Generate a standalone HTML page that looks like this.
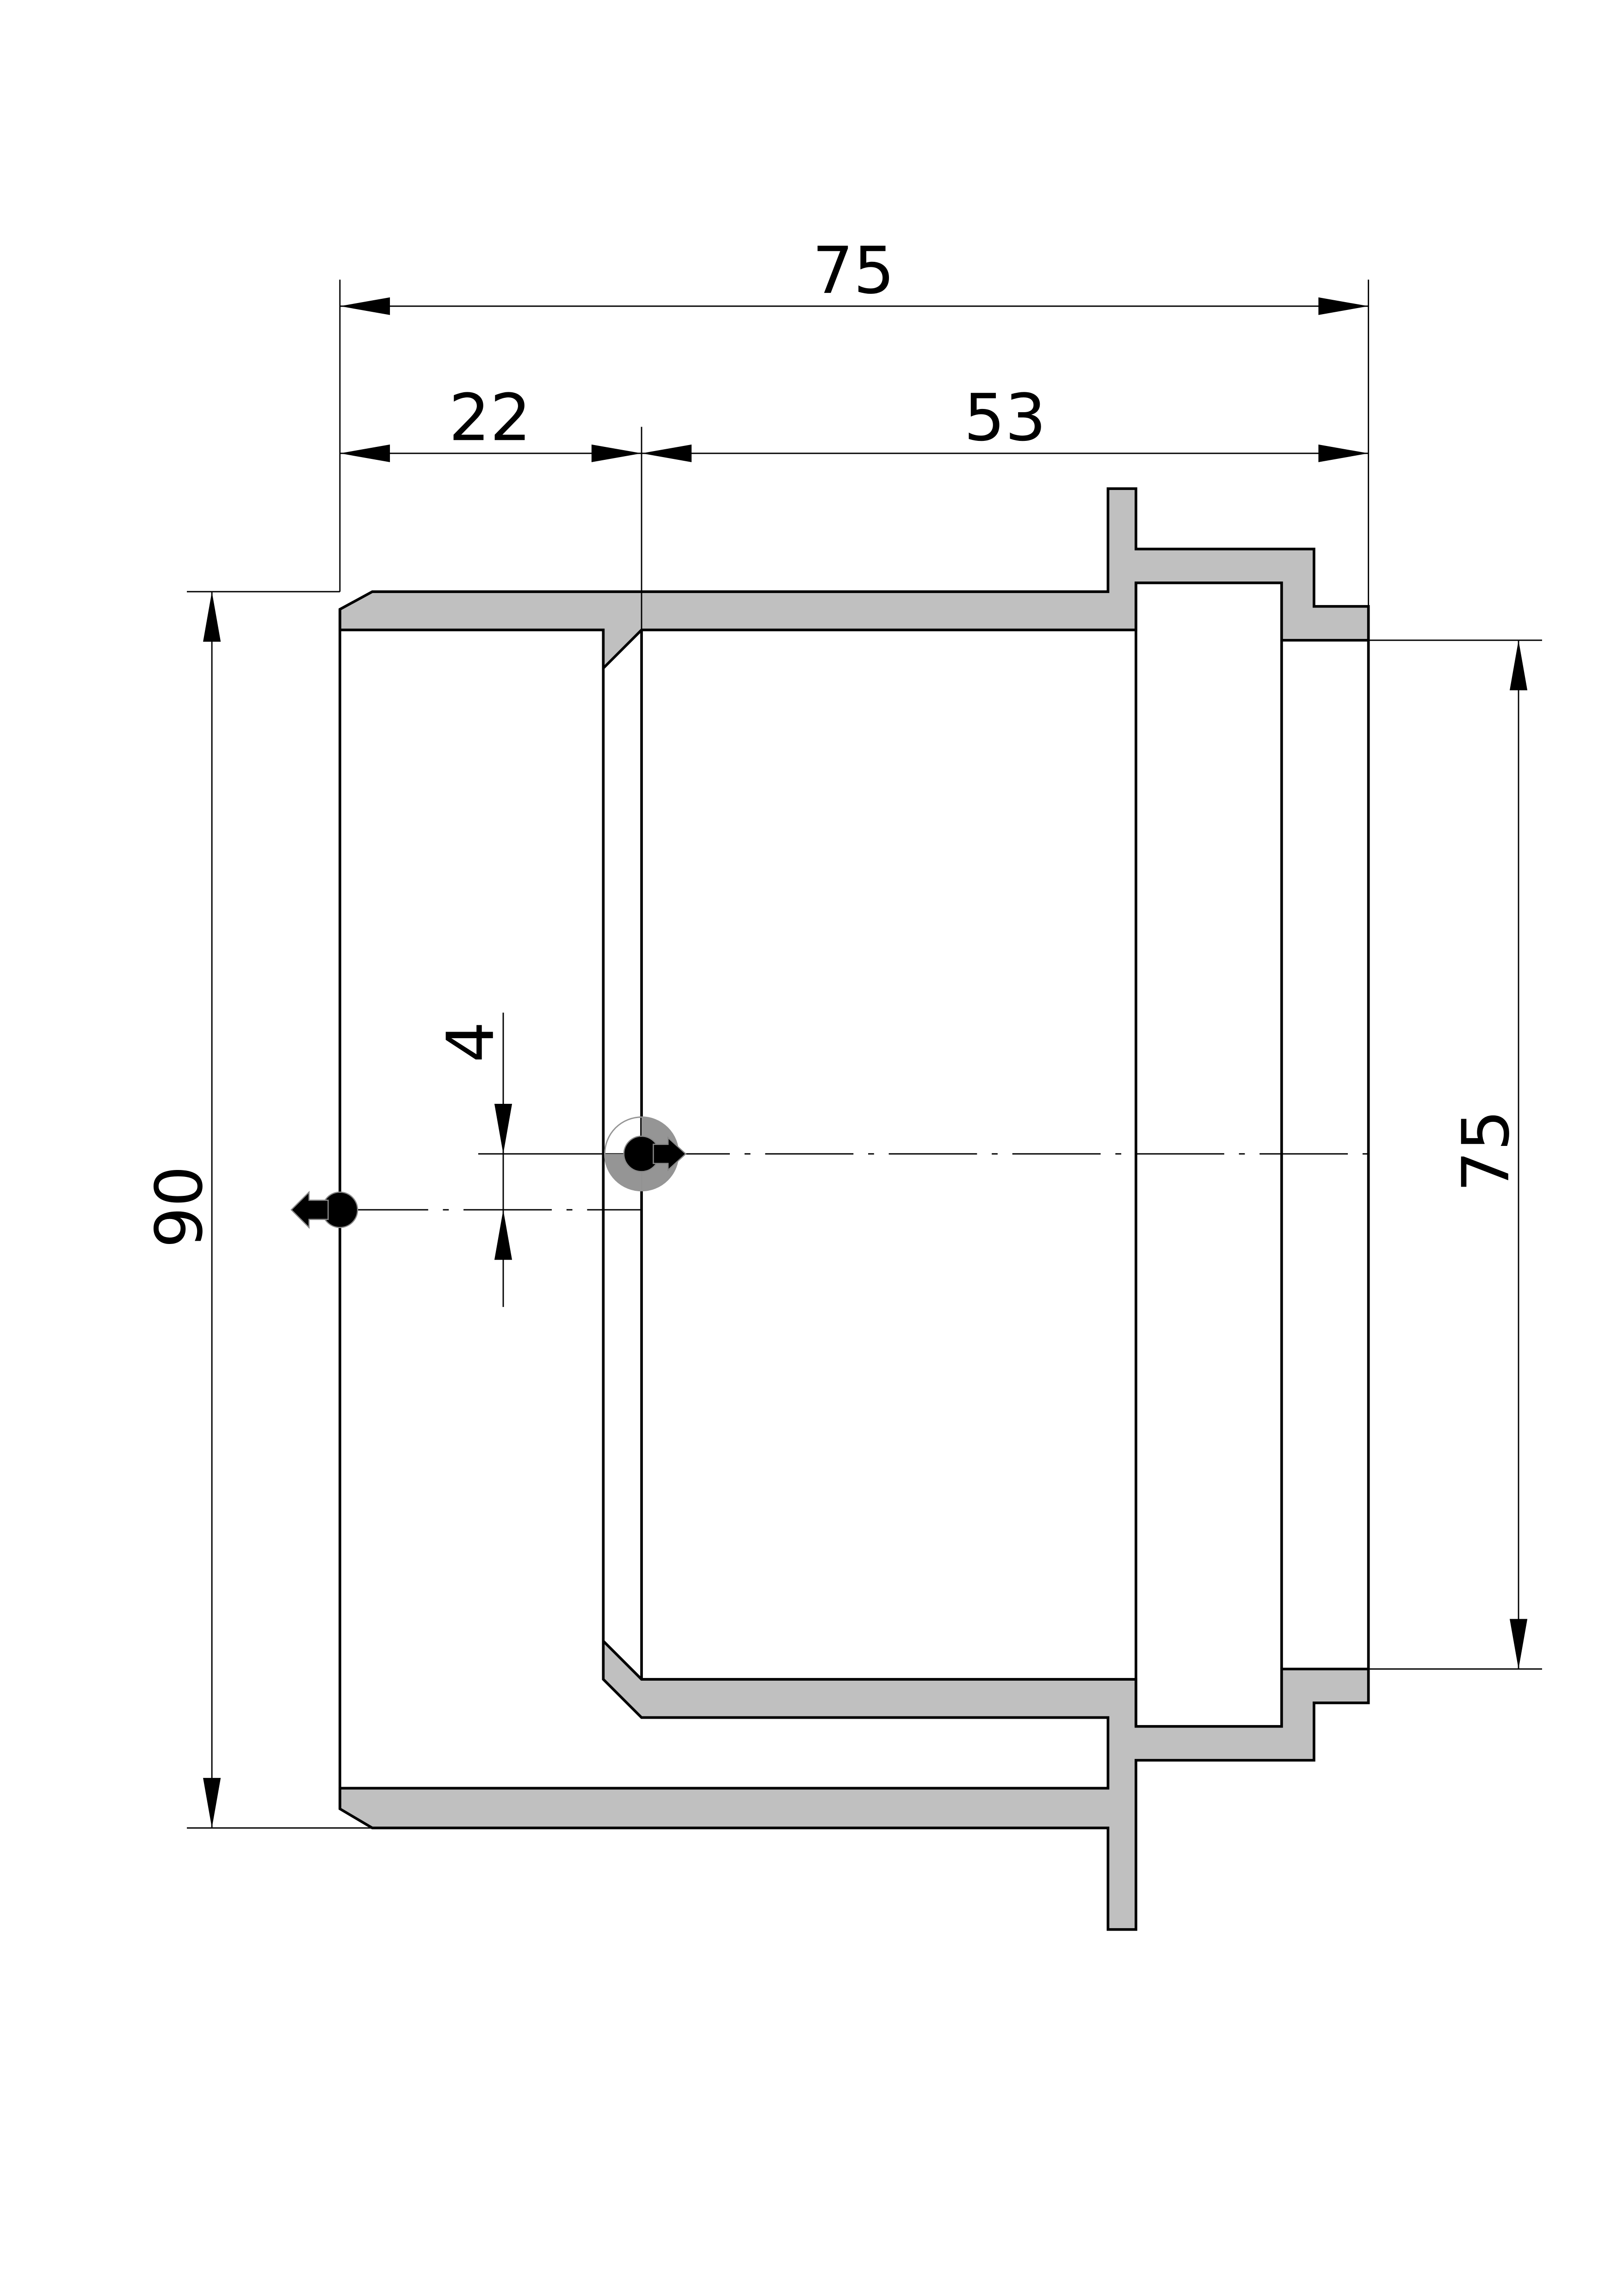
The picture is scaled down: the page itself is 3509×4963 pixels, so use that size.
<!DOCTYPE html>
<html><head><style>html,body{margin:0;padding:0;background:#fff}svg{display:block}</style></head><body>
<svg width="3509" height="4963" viewBox="0 0 1103 1560" xmlns="http://www.w3.org/2000/svg">
<rect width="1103" height="1560" fill="#fff"/>
<g fill="#c0c0c0" stroke="#000" stroke-width="1.8" stroke-linejoin="miter">
<polygon points="231,428 410,428 410,454 436,428 772,428 772,396 871,396 871,435 930,435 930,412 893,412 893,373 772,373 772,332 753,332 753,402 253,402 231,414"/>
<polygon points="231,1215 753,1215 753,1167 436,1167 410,1141 410,1115 436,1141 772,1141 772,1173 871,1173 871,1134 930,1134 930,1157 893,1157 893,1196 772,1196 772,1311 753,1311 753,1242 253,1242 231,1229"/>
</g>
<g stroke="#000" stroke-width="1.8" fill="none">
<line x1="231" y1="414" x2="231" y2="1229"/>
<line x1="410" y1="454" x2="410" y2="1115"/>
<line x1="436" y1="428" x2="436" y2="1141"/>
<line x1="772" y1="396" x2="772" y2="1173"/>
<line x1="871" y1="435" x2="871" y2="1134"/>
<line x1="930" y1="435" x2="930" y2="1134"/>
</g>
<g stroke="#000" stroke-width="0.9" fill="none">
<line x1="231" y1="190" x2="231" y2="402"/>
<line x1="930" y1="190" x2="930" y2="412"/>
<line x1="436" y1="290" x2="436" y2="428"/>
<line x1="231" y1="208" x2="930" y2="208"/>
<line x1="231" y1="308" x2="930" y2="308"/>
<line x1="127" y1="402" x2="231" y2="402"/>
<line x1="127" y1="1242" x2="253" y2="1242"/>
<line x1="144" y1="402" x2="144" y2="1242"/>
<line x1="930" y1="435" x2="1048" y2="435"/>
<line x1="930" y1="1134" x2="1048" y2="1134"/>
<line x1="1032" y1="435" x2="1032" y2="1134"/>
<line x1="342" y1="688" x2="342" y2="888"/>
<line x1="325" y1="784" x2="436" y2="784"/>
<line x1="436" y1="784" x2="930" y2="784" stroke-dasharray="60,10,4,10"/>
<line x1="231" y1="822" x2="436" y2="822" stroke-dasharray="60,10,4,10"/>
</g>
<g fill="#000">
<polygon points="231,208 265,202 265,214"/><polygon points="930,208 896,202 896,214"/>
<polygon points="231,308 265,302 265,314"/><polygon points="436,308 402,302 402,314"/>
<polygon points="436,308 470,302 470,314"/><polygon points="930,308 896,302 896,314"/>
<polygon points="144,402 138,436 150,436"/><polygon points="144,1242 138,1208 150,1208"/>
<polygon points="1032,435 1026,469 1038,469"/><polygon points="1032,1134 1026,1100 1038,1100"/>
<polygon points="342,784 336,750 348,750"/><polygon points="342,822 336,856 348,856"/>
</g>
<path d="M436,759 A25,25 0 0 1 436,809 Z" fill="#959595"/>
<path d="M436,809 A25,25 0 0 1 411,784 L436,784 Z" fill="#959595"/>
<circle cx="436" cy="784" r="25" fill="none" stroke="#959595" stroke-width="0.9"/>
<circle cx="436" cy="784" r="12" fill="#000" stroke="#888" stroke-width="0.8"/>
<polygon points="444,777.5 454,777.5 454,773 466,784 454,795 454,790.5 444,790.5" fill="#000" stroke="#888" stroke-width="0.8"/>
<circle cx="231" cy="822" r="12" fill="#000" stroke="#888" stroke-width="0.8"/>
<polygon points="223,815.5 210,815.5 210,810 198,822 210,834 210,828.5 223,828.5" fill="#000" stroke="#888" stroke-width="0.8"/>
<g font-family="'DejaVu Sans','Liberation Sans',sans-serif" font-size="44" fill="#000" text-anchor="middle">
<text x="580" y="199">75</text>
<text x="333" y="299">22</text>
<text x="683" y="299">53</text>
<text transform="translate(137,820) rotate(-90)">90</text>
<text transform="translate(1025,782) rotate(-90)">75</text>
<text transform="translate(335,708) rotate(-90)">4</text>
</g>
</svg>
</body></html>
